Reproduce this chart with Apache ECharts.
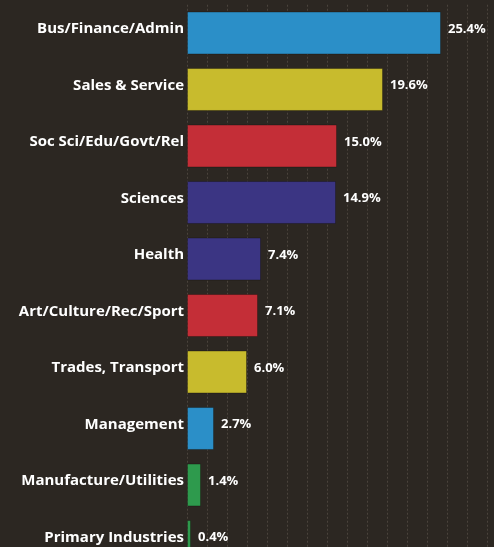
<!DOCTYPE html>
<html>
<head>
<meta charset="utf-8">
<script src="https://cdn.jsdelivr.net/npm/echarts@6/dist/echarts.min.js"></script>
<style>
html,body{margin:0;padding:0;background:#2c2722;overflow:hidden;}
#chart{width:494px;height:570px;}
</style>
</head>
<body>
<div id="chart"></div>
<script>
const categories = ["Bus/Finance/Admin","Sales & Service","Soc Sci/Edu/Govt/Rel","Sciences","Health","Art/Culture/Rec/Sport","Trades, Transport","Management","Manufacture/Utilities","Primary Industries"];
const shares = [25.4, 19.6, 15.0, 14.9, 7.4, 7.1, 6.0, 2.7, 1.4, 0.4];
const barColors = ["#2b8fc8","#c8bb2d","#c42e37","#3b3583","#3b3583","#c42e37","#c8bb2d","#2b8fc8","#2e9a4d","#2e9a4d"];

const chart = echarts.init(document.getElementById('chart'), null, {renderer:'canvas'});
chart.setOption({
  backgroundColor: '#2c2722',
  animation: false,
  grid: {left: 187, right: 7, top: 4.75, bottom: 0.25, containLabel: false},
  xAxis: {
    type: 'value', min: 0, max: 30, interval: 2,
    axisLine: {show: false}, axisTick: {show: false}, axisLabel: {show: false},
    splitLine: {show: true, lineStyle: {color: '#4a433c', width: 1, type: [2, 2]}}
  },
  yAxis: {
    type: 'category', inverse: true, data: categories,
    axisLine: {show: false}, axisTick: {show: false},
    axisLabel: {
      color: '#ffffff', fontFamily: 'Open Sans', fontWeight: 'bold', fontSize: 15,
      margin: 3, verticalAlign: 'bottom', lineHeight: 8
    }
  },
  series: [{
    type: 'bar',
    barCategoryGap: '24%',
    data: shares.map((v, i) => ({value: v, itemStyle: {color: barColors[i], borderColor: 'rgba(20,16,12,0.35)', borderWidth: 1}})),
    label: {
      show: true, position: 'right', distance: 7, offset: [0, -4],
      color: '#ffffff', fontFamily: 'Open Sans', fontWeight: 'bold', fontSize: 13,
      formatter: p => p.value.toFixed(1) + '%'
    }
  }]
});
</script>
</body>
</html>
